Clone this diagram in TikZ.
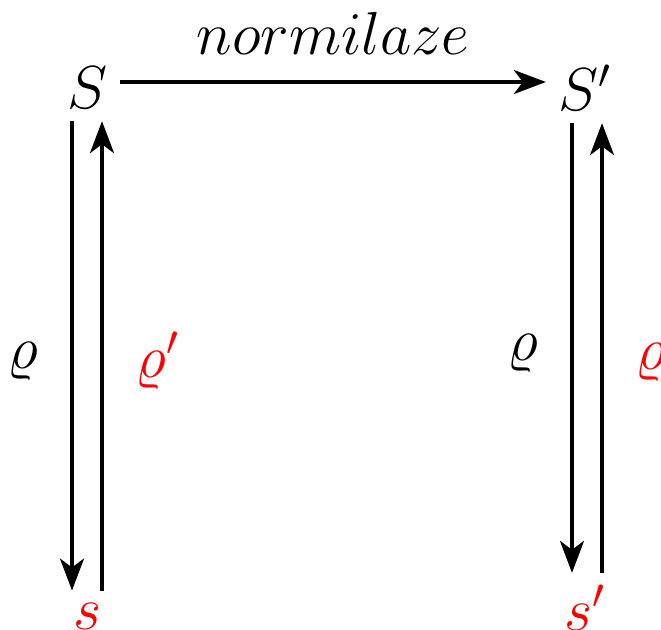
\documentclass[tikz,border=0pt]{standalone}
\usepackage{tikz}
\usetikzlibrary{arrows.meta,positioning,calc}
\usepackage{xcolor}
\usepackage{amsmath}
\tikzset{
    every node/.append style={align=center,font=\LARGE},
    obj/.style={inner sep=3.33pt},
    arr/.style={-{Stealth[length=3.2mm,width=2.4mm,inset=0.9mm]},line width=1.1pt},
    lbl/.style={inner sep=1pt}
}
\begin{document}
\begin{tikzpicture}
    \useasboundingbox (0,0) rectangle (6.61,-6.29);
    \node[obj] (S)    at (0.88,-0.88) {$S$};
    \node[obj] (Sp)   at (5.85,-0.88) {$S'$};
    \node[obj,text=red] (s)  at (0.88,-6.16) {$s$};
    \node[obj,text=red] (sp) at (5.85,-6.08) {$s'$};

    \draw[arr] ($(S.east)+(0,0.06)$) -- node[lbl,above=0.22cm]{$normilaze$} ($(Sp.west)+(0,0.06)$);
    \draw[arr] ($(S.south)+(-0.16,0)$) -- node[lbl,left=0.28cm,yshift=-0.05cm]{$\varrho$} ($(s.north)+(-0.16,0)$);
    \draw[arr] ($(s.north)+(0.14,0)$) -- node[lbl,right=0.28cm,yshift=-0.05cm,text=red]{$\varrho'$} ($(S.south)+(0.14,0)$);
    \draw[arr] ($(Sp.south)+(-0.13,0)$) -- node[lbl,left=0.28cm,yshift=-0.05cm]{$\varrho$} ($(sp.north)+(-0.13,0)$);
    \draw[arr] ($(sp.north)+(0.17,0)$) -- node[lbl,right=0.28cm,yshift=-0.05cm,text=red]{$\varrho'$} ($(Sp.south)+(0.17,0)$);
\end{tikzpicture}
\end{document}
